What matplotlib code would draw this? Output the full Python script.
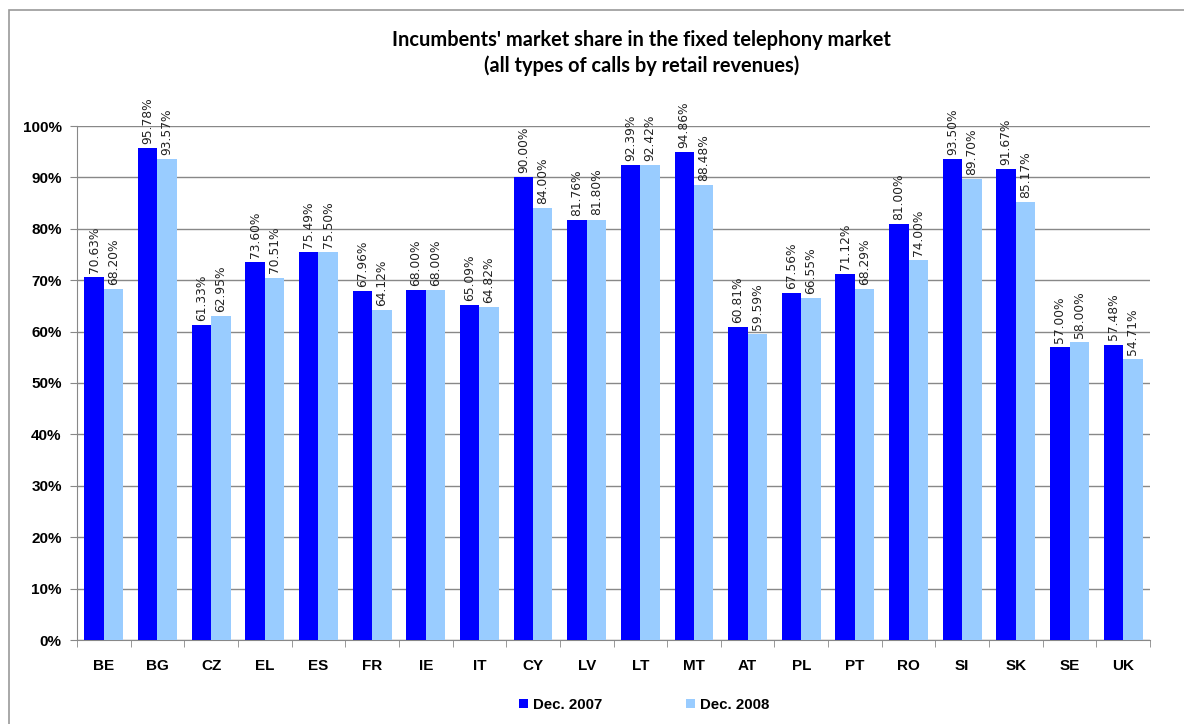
import numpy as np
import matplotlib
matplotlib.use("Agg")
import matplotlib.pyplot as plt
from matplotlib.patches import Rectangle
from matplotlib.ticker import PercentFormatter

countries = ["BE", "BG", "CZ", "EL", "ES", "FR", "IE", "IT", "CY", "LV",
             "LT", "MT", "AT", "PL", "PT", "RO", "SI", "SK", "SE", "UK"]
dec2007 = [70.63, 95.78, 61.33, 73.60, 75.49, 67.96, 68.00, 65.09, 90.00, 81.76,
           92.39, 94.86, 60.81, 67.56, 71.12, 81.00, 93.50, 91.67, 57.00, 57.48]
dec2008 = [68.20, 93.57, 62.95, 70.51, 75.50, 64.12, 68.00, 64.82, 84.00, 81.80,
           92.42, 88.48, 59.59, 66.55, 68.29, 74.00, 89.70, 85.17, 58.00, 54.71]
series_names = ["Dec. 2007", "Dec. 2008"]

dark = "#0000FF"
light = "#99CCFF"

fig = plt.figure(figsize=(11.84, 7.24), dpi=100)
ax = fig.add_axes([77 / 1184, 1 - 640 / 724, (1150 - 77) / 1184, (640 - 126) / 724])

# outer chart frame
fig.patches.append(Rectangle((9 / 1184, -0.1), 1.2, 0.1 + 1 - 10 / 724,
                             transform=fig.transFigure, fill=False,
                             edgecolor="#999999", linewidth=1.2))

x = np.arange(len(countries))
w = 0.363
b1 = ax.bar(x - w / 2, dec2007, w, color=dark, label=series_names[0], zorder=3)
b2 = ax.bar(x + w / 2, dec2008, w, color=light, label=series_names[1], zorder=3)

for bars, vals in [(b1, dec2007), (b2, dec2008)]:
    for r, v in zip(bars, vals):
        ax.text(r.get_x() + r.get_width() / 2, v + 0.8, f"{v:.2f}%",
                rotation=90, ha="center", va="bottom", fontsize=8.8,
                color="#222222", zorder=4)

ax.set_xlim(-0.5, len(countries) - 0.5)
ax.set_ylim(0, 100)
ax.set_yticks(np.arange(0, 101, 10))
ax.yaxis.set_major_formatter(PercentFormatter(decimals=0))
ax.set_xticks(x)
ax.set_xticklabels(countries)
ax.set_xticks(np.arange(-0.5, len(countries)), minor=True)
ax.tick_params(axis="x", which="major", length=0, pad=14)
ax.tick_params(axis="x", which="minor", length=5, color="#888888", direction="out")
ax.tick_params(axis="y", length=5, color="#888888", pad=6)
for lab in ax.get_xticklabels() + ax.get_yticklabels():
    lab.set_fontfamily("Liberation Sans")
    lab.set_fontweight("bold")
    lab.set_fontsize(11)

ax.grid(axis="y", color="#888888", linewidth=1, zorder=0)
for s in ["top", "right"]:
    ax.spines[s].set_visible(False)
ax.spines["left"].set_color("#888888")
ax.spines["bottom"].set_color("#888888")

fig.text(0.542, 1 - 40 / 724, "Incumbents' market share in the fixed telephony market",
         ha="center", va="center", fontsize=14.4, fontweight="bold", family="Lato")
fig.text(0.542, 1 - 66 / 724, "(all types of calls by retail revenues)",
         ha="center", va="center", fontsize=14.4, fontweight="bold", family="Lato")

leg = fig.legend(loc="center", bbox_to_anchor=(0.544, 1 - 705 / 724), ncol=2,
                 frameon=False, handlelength=0.6, handleheight=0.6,
                 handletextpad=0.3, columnspacing=5.6,
                 prop={"family": "Liberation Sans", "weight": "bold", "size": 10.8})

fig.savefig("out.png", dpi=100)
